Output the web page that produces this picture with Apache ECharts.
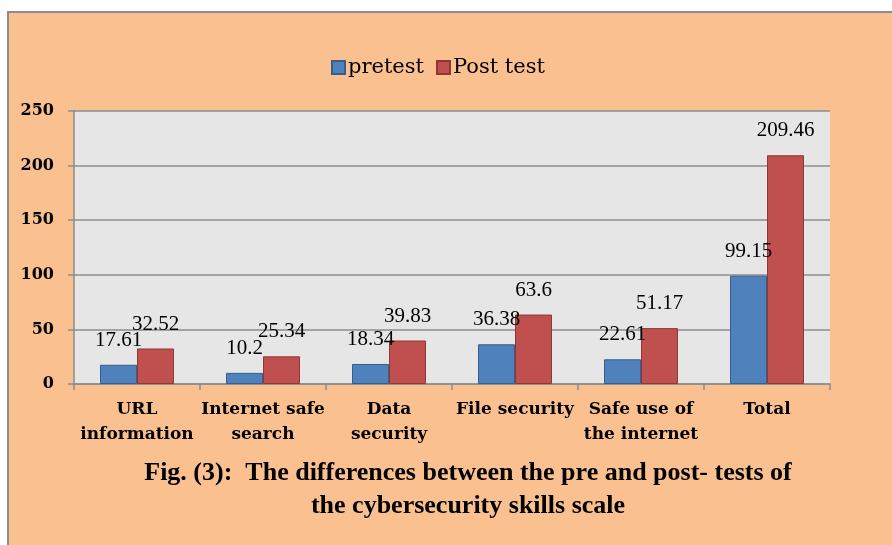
<!DOCTYPE html>
<html>
<head>
<meta charset="utf-8">
<script src="https://cdn.jsdelivr.net/npm/echarts@6/dist/echarts.min.js"></script>
<style>
  html, body { margin: 0; padding: 0; background: #fff; }
  #main { width: 892px; height: 545px; }
</style>
</head>
<body>
<div id="main"></div>
<script>
// values
var categories = ['URL\ninformation', 'Internet safe\nsearch', 'Data\nsecurity', 'File security', 'Safe use of\nthe internet', 'Total'];
var pretest = [17.61, 10.2, 18.34, 36.38, 22.61, 99.15];
var posttest = [32.52, 25.34, 39.83, 63.6, 51.17, 209.46];
var yTicks = { min: 0, max: 250, interval: 50 };
var caption = 'Fig. (3):  The differences between the pre and post- tests of\nthe cybersecurity skills scale';

var serif = 'DejaVu Serif';
var chart = echarts.init(document.getElementById('main'));

var barLabel = {
  show: true, position: 'top', distance: 14, color: '#000',
  fontFamily: 'Liberation Serif', fontSize: 21
};

var option = {
  backgroundColor: '#fff',
  animation: false,
  graphic: [
    {
      type: 'rect', z: -10, silent: true,
      shape: { x: 8, y: 12, width: 900, height: 560 },
      style: { fill: '#FAC090', stroke: '#8c8c8c', lineWidth: 2 }
    },
    {
      type: 'text', x: 468, y: 457, silent: true,
      style: {
        text: caption, align: 'center', textAlign: 'center', fill: '#000',
        fontFamily: 'Liberation Serif', fontWeight: 'bold', fontSize: 26, lineHeight: 33
      }
    }
  ],
  legend: {
    top: 52, left: 326,
    itemWidth: 13, itemHeight: 13, itemGap: 12,
    icon: 'rect',
    textStyle: { fontFamily: serif, fontSize: 21, color: '#000', padding: [0, 0, 0, -2] },
    data: ['pretest', 'Post test']
  },
  grid: { left: 74, right: 62, top: 111, bottom: 161, show: true, backgroundColor: '#E6E6E6', borderWidth: 0 },
  xAxis: {
    type: 'category',
    data: categories,
    axisLine: { lineStyle: { color: '#8c8c8c', width: 1.5 } },
    axisTick: { show: true, length: 6, lineStyle: { color: '#8c8c8c', width: 1.5 } },
    axisLabel: {
      interval: 0, margin: 13, color: '#000',
      fontFamily: serif, fontWeight: 'bold', fontSize: 17, lineHeight: 25,
      verticalAlign: 'top'
    }
  },
  yAxis: {
    type: 'value',
    min: yTicks.min, max: yTicks.max, interval: yTicks.interval,
    axisLine: { show: true, lineStyle: { color: '#8c8c8c', width: 1.5 } },
    axisTick: { show: true, length: 6, lineStyle: { color: '#8c8c8c', width: 1.5 } },
    splitLine: { lineStyle: { color: '#8c8c8c', width: 1.5 } },
    axisLabel: { margin: 20, color: '#000', fontFamily: serif, fontWeight: 'bold', fontSize: 16 }
  },
  series: [
    {
      name: 'pretest', type: 'bar', data: pretest,
      barWidth: 37, barGap: '0%',
      itemStyle: { color: '#4F81BD', borderColor: '#385D8A', borderWidth: 1 },
      label: barLabel
    },
    {
      name: 'Post test', type: 'bar', data: posttest,
      barWidth: 37,
      itemStyle: { color: '#C0504D', borderColor: '#8C3836', borderWidth: 1 },
      label: barLabel
    }
  ]
};
chart.setOption(option);
</script>
</body>
</html>
